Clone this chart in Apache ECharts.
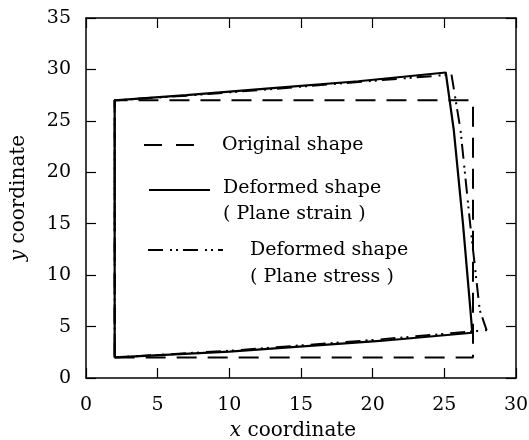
<!DOCTYPE html>
<html>
<head>
<meta charset="utf-8">
<script src="https://cdn.jsdelivr.net/npm/echarts@6/dist/echarts.min.js"></script>
<style>html,body{margin:0;padding:0;background:#fff}#c{width:529px;height:440px}</style>
</head>
<body>
<div id="c"></div>
<script>
// Original shape (rectangle)
var origX = [2, 27, 27, 2, 2];
var origY = [2, 2, 27, 27, 2];
// Deformed shape (plane strain)
var strainX = [2, 2, 7, 12.8, 19, 25.1, 25.66, 26.3, 26.82, 26.95, 20.5, 10, 2];
var strainY = [2, 27, 27.5, 28.15, 28.85, 29.7, 24.1, 15, 6.6, 4.4, 3.6, 2.56, 2];
// Deformed shape (plane stress)
var stressX = [2, 2, 7, 12.8, 19, 25.5, 26.13, 26.8, 27.47, 27.95, 20.5, 10, 2];
var stressY = [2, 27, 27.45, 28.07, 28.78, 29.5, 24.1, 15, 6.6, 4.65, 3.75, 2.65, 2];
// axis ticks
var xTicks = [0, 5, 10, 15, 20, 25, 30];
var yTicks = [0, 5, 10, 15, 20, 25, 30, 35];
var seriesNames = ['Original shape', 'Deformed shape\n( Plane strain )', 'Deformed shape\n( Plane stress )'];

function pairs(xs, ys) { return xs.map(function (x, i) { return [x, ys[i]]; }); }

var FONT = '"DejaVu Serif", "Liberation Serif", serif';
var chart = echarts.init(document.getElementById('c'), null, {renderer: 'canvas'});

var axisCommon = {
  type: 'value',
  splitLine: {show: false},
  axisLine: {show: true, onZero: false, lineStyle: {color: '#000', width: 1.5}},
  axisTick: {show: true, inside: true, length: 10, lineStyle: {color: '#000', width: 1.2}}
};

var option = {
  backgroundColor: '#fff',
  animation: false,
  grid: {left: 86, right: 13, top: 18, bottom: 62, containLabel: false, outerBoundsMode: 'none'},
  xAxis: [
    Object.assign({}, axisCommon, {
      position: 'bottom', min: xTicks[0], max: xTicks[xTicks.length - 1], interval: 5,
      axisLabel: {show: true, color: '#000', fontFamily: FONT, fontSize: 19, margin: 18},
      name: '{i|x} coordinate', nameLocation: 'middle', nameGap: 43,
      nameTextStyle: {color: '#000', fontFamily: FONT, fontSize: 20, padding: [0, 16, 0, 0],
        rich: {i: {fontStyle: 'italic', fontFamily: FONT, fontSize: 20, color: '#000'}}}
    }),
    Object.assign({}, axisCommon, {
      position: 'top', min: xTicks[0], max: xTicks[xTicks.length - 1], interval: 5,
      axisLabel: {show: false}
    })
  ],
  yAxis: [
    Object.assign({}, axisCommon, {
      position: 'left', min: yTicks[0], max: yTicks[yTicks.length - 1], interval: 5,
      axisLabel: {show: true, color: '#000', fontFamily: FONT, fontSize: 19, margin: 15},
      name: '{i|y} coordinate', nameLocation: 'middle', nameGap: 57, nameRotate: 90,
      nameTextStyle: {color: '#000', fontFamily: FONT, fontSize: 20,
        rich: {i: {fontStyle: 'italic', fontFamily: FONT, fontSize: 20, color: '#000'}}}
    }),
    Object.assign({}, axisCommon, {
      position: 'right', min: yTicks[0], max: yTicks[yTicks.length - 1], interval: 5,
      axisLabel: {show: false}
    })
  ],
  series: [
    {name: seriesNames[0], type: 'line', symbol: 'none', data: pairs(origX, origY),
     lineStyle: {color: '#000', width: 2, type: [20, 11]}, z: 2},
    {name: seriesNames[1], type: 'line', symbol: 'none', data: pairs(strainX, strainY),
     lineStyle: {color: '#000', width: 2.2, type: 'solid'}, z: 3},
    {name: seriesNames[2], type: 'line', symbol: 'none', data: pairs(stressX, stressY),
     lineStyle: {color: '#000', width: 2, type: [15, 7, 2, 4, 2, 5]}, z: 4}
  ],
  graphic: [
    {type: 'line', shape: {x1: 144, y1: 145, x2: 198, y2: 145},
     style: {stroke: '#000', lineWidth: 2, lineDash: [18, 14]}},
    {type: 'text', x: 222, y: 145, style: {text: 'Original shape', fill: '#000',
     font: '19px ' + FONT, verticalAlign: 'middle'}},
    {type: 'line', shape: {x1: 149, y1: 190, x2: 210, y2: 190},
     style: {stroke: '#000', lineWidth: 2}},
    {type: 'text', x: 223, y: 188, style: {text: 'Deformed shape', fill: '#000',
     font: '19px ' + FONT, verticalAlign: 'middle'}},
    {type: 'text', x: 223, y: 214, style: {text: '( Plane strain )', fill: '#000',
     font: '19px ' + FONT, verticalAlign: 'middle'}},
    {type: 'line', shape: {x1: 148, y1: 250, x2: 223, y2: 250},
     style: {stroke: '#000', lineWidth: 2, lineDash: [15, 7, 2, 4, 2, 5]}},
    {type: 'text', x: 250, y: 250, style: {text: 'Deformed shape', fill: '#000',
     font: '19px ' + FONT, verticalAlign: 'middle'}},
    {type: 'text', x: 250, y: 277, style: {text: '( Plane stress )', fill: '#000',
     font: '19px ' + FONT, verticalAlign: 'middle'}}
  ]
};
chart.setOption(option);
</script>
</body>
</html>
